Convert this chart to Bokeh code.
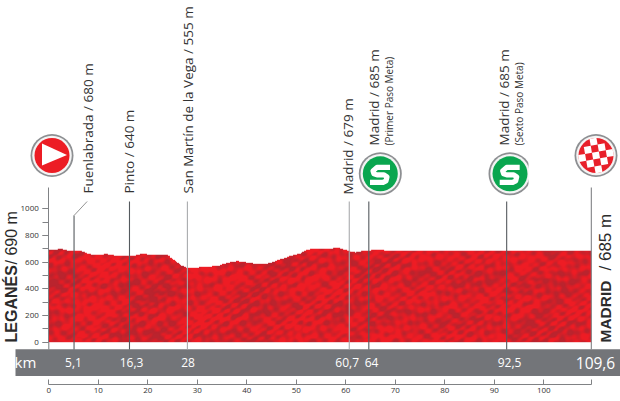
import numpy as np
from bokeh.plotting import figure
from bokeh.models import LinearAxis, FixedTicker, CustomJSTickFormatter
from bokeh.core.properties import value
from bokeh.embed import file_html
from bokeh.resources import INLINE

km = [0, 1.15, 2.5, 3.85, 5.1, 6.2, 7.55, 9.2, 11.6, 13.3, 14.95, 16.3, 17.65, 19, 20.35, 22.4, 24.05, 25.05, 26.7, 27.75, 28.6, 32, 34.35, 36, 38, 40, 42.8, 44.8, 46.8, 48.8, 50.85, 52.2, 53.5, 56.2, 58.6, 60.7, 62, 63.6, 64.6, 66.7, 68.4, 69.7, 80, 92.5, 100, 109.6]
elev = [689, 692, 697, 684, 680, 684, 667, 649, 659, 647, 644, 640, 649, 664, 649, 649, 649, 619, 574, 557, 555, 562, 574, 592, 607, 595, 580, 592, 619, 644, 664, 692, 699, 699, 707, 679, 669, 684, 685, 694, 682, 685, 685, 685, 685, 685]
y_ticks = [0, 200, 400, 600, 800, 1000]
x_ticks = [0, 10, 20, 30, 40, 50, 60, 70, 80, 90, 100]
way_km = [5.1, 16.3, 28, 60.7, 64.65, 92.5]
way_lab = ["5,1", "16,3", "28", "60,7", "64", "92,5"]
way_col = ["#555a5e", "#555a5e", "#a9abad", "#a9abad", "#555a5e", "#555a5e"]
place_txt = ["Fuenlabrada / 680 m", "Pinto / 640 m", "San Martín de la Vega / 555 m", "Madrid / 679 m", "Madrid / 685 m", "Madrid / 685 m"]
place_px = [87, 128, 187, 347, 373, 503]
place_bot = [193, 193, 193, 194, 145, 145]
sub_txt = ["(Primer Paso Meta)", "(Sexto Paso Meta)"]
sub_px = [388, 518]
total_km = 109.6
start_name, start_alt = "LEGANÉS", "/ 690 m"
end_name, end_alt = "MADRID", "/ 685 m"

W, H = 620, 401
XS, X0 = 4.95, 48.3      # px per km, px of km 0
YS, Y0 = 0.1335, 341.7   # px per m, px of 0 m
fx = lambda px: (np.asarray(px, float) - X0) / XS
fy = lambda py: (Y0 - np.asarray(py, float)) / YS

p = figure(width=W, height=H, output_backend="svg", toolbar_location=None,
           x_range=(float(fx(0)), float(fx(W))), y_range=(float(fy(H)), float(fy(0))),
           min_border=0, outline_line_color=None, background_fill_color="white")
p.grid.visible = False
p.xaxis.visible = False
p.yaxis.visible = False

# red profile, with a mottled non-data texture built from interfering waves
nx, ny = 1100, 280
gx = np.linspace(0, total_km, nx)
gy = np.linspace(0, 760, ny)
XX, YY = np.meshgrid(gx, gy)
prof = np.interp(gx, km, elev)
a = XX * 4.95
b = YY * 0.1335
tex = np.zeros_like(a)
for fa, fb, ph, wob in [(0.23, 0.58, 0.3, 2.6), (0.37, -0.49, 1.7, 3.1), (0.61, 0.33, 4.1, 2.2),
                        (0.14, 0.41, 2.2, 3.4), (0.53, -0.77, 5.3, 1.8), (0.09, -0.21, 0.9, 3.6)]:
    tex += np.sin(fa * a + fb * b + ph + wob * np.sin(0.071 * a - 0.113 * b + ph * 2))
tex = tex + 1.3 * np.sin(0.037 * a + 0.061 * b + 1.1) * np.sin(0.023 * a - 0.083 * b + 0.4)
tex = np.clip((tex + 2.6) / 4.2, 0, 1)
rgba = np.zeros((ny, nx, 4), dtype=np.uint8)
rgba[..., 0] = (186 + 52 * tex).astype(np.uint8)
rgba[..., 1] = (36 - 8 * tex).astype(np.uint8)
rgba[..., 2] = (46 - 10 * tex).astype(np.uint8)
rgba[..., 3] = np.where(YY <= prof[None, :], 255, 0)
img = np.empty((ny, nx), dtype=np.uint32)
img.view(np.uint8).reshape((ny, nx, 4))[:] = rgba
p.image_rgba(image=[img], x=0, y=0, dw=total_km, dh=760)

# km band
p.quad(left=[float(fx(15))], right=[float(fx(620))], bottom=[float(fy(375.5))], top=[float(fy(348.7))],
       fill_color="#737579", line_color=None)

# waypoint lines
for k, c in zip(way_km, way_col):
    top = float(fy(215)) if k == way_km[0] else float(fy(201))
    p.line([k, k], [float(fy(349)), top], line_color=c, line_width=1.1)
p.line([way_km[0], float(fx(86.6))], [float(fy(215)), float(fy(201))], line_color="#777", line_width=0.8)
p.line([total_km, total_km], [float(fy(349)), float(fy(187))], line_color="#808285", line_width=1.1)
p.line([0, 0], [float(fy(349)), 0], line_color="#808285", line_width=1.1)

# axes
ya = LinearAxis(fixed_location=0, bounds=(0, float(fy(187))))
ya.ticker = FixedTicker(ticks=y_ticks, minor_ticks=list(range(0, 1100, 100)))
xa = LinearAxis(fixed_location=float(fy(384.3)), bounds=(0, total_km))
xa.ticker = FixedTicker(ticks=x_ticks + [total_km])
xa.formatter = CustomJSTickFormatter(code="return tick > 105 ? '' : String(tick)")
for ax in (ya, xa):
    ax.axis_line_color = "#808285"
    ax.major_tick_line_color = "#808285"
    ax.minor_tick_line_color = "#808285"
    ax.major_label_text_font = "Open Sans"
    ax.major_label_text_font_size = "8px"
    ax.major_label_text_color = "#333333"
ya.major_tick_in, ya.major_tick_out = 0, 6
ya.minor_tick_in, ya.minor_tick_out = 0, 6
ya.major_label_standoff = 4
xa.major_tick_in, xa.major_tick_out = 5, 0
xa.minor_tick_line_color = None
xa.major_label_standoff = 3
p.add_layout(ya, "left")
p.add_layout(xa, "below")

def label(px, py, s, size, color="#333333", angle=np.pi / 2, align="left", style="normal", font="Open Sans"):
    p.text([float(fx(px))], [float(fy(py))], text=[s], angle=angle, text_font=value(font),
           text_font_size=f"{size}px", text_color=color, text_align=align, text_baseline="middle",
           text_font_style=style)

for x, bot, s in zip(place_px, place_bot, place_txt):
    label(x, bot, s, 13.5)
for x, s in zip(sub_px, sub_txt):
    label(x, 145, s, 10)

SANS = "Liberation Sans"
label(11, 342, start_name, 16, color="#2b2b2b", style="bold", font=SANS)
label(11, 264, start_alt, 16, color="#2b2b2b", font=SANS)
label(605, 342, end_name, 15.5, color="#2b2b2b", style="bold", font=SANS)
label(605, 270, end_alt, 17, color="#2b2b2b", font=SANS)

label(25, 361, "km", 15, color="white", angle=0, align="center")
for px, s in zip([73, 131, 187.5, 346.7, 371, 509], way_lab):
    label(px, 362, s, 12, color="white", angle=0, align="center")
label(595, 362, "109,6", 15.5, color="white", angle=0, align="center")

# icons
def badge(px, py, fill):
    x, y = [float(fx(px))], [float(fy(py))]
    p.scatter(x, y, size=43, fill_color="#8d8f92", line_color=None)
    p.scatter(x, y, size=39.5, fill_color="#f4f4f4", line_color=None)
    p.scatter(x, y, size=35, fill_color=fill, line_color=None)

badge(51.5, 155, "#ec1c24")
p.patch(fx([41.5, 41.5, 66.5]), fy([143, 165, 154.5]), fill_color="white", line_color=None)

S_dx = [9.7, -3.3, -7.3, -6.3, -3.3, 3.7, 6.7, 5.7, 2.7, -10.3]
S_dy = [-5.8, -5.8, -2.3, 0.7, 1.7, 1.7, 3.7, 7.7, 9.2, 9.2]
for cx0, cy0 in [(379.8, 172.7), (509.5, 172.7)]:
    badge(cx0, cy0 + 0.6, "#0aa64f")
    p.line(fx(cx0 + np.array(S_dx)), fy(cy0 + np.array(S_dy)), line_color="white", line_width=5.2,
           line_join="round")
p.quad(left=[float(fx(528))], right=[float(fx(534))], bottom=[float(fy(196))], top=[float(fy(150))],
       fill_color="white", line_color=None)

badge(595.5, 155, "#e8202a")
s = 7.0
cx, cy = 595.5, 155
th = np.radians(-10)
c_, s_ = np.cos(th), np.sin(th)
for i in range(-2, 3):
    for j in range(-2, 3):
        if (i + j) % 2 == 0 and i * i + j * j <= 5:
            sq_x = np.array([i - .5, i + .5, i + .5, i - .5]) * s
            sq_y = np.array([j - .5, j - .5, j + .5, j + .5]) * s
            p.patch(fx(cx + sq_x * c_ - sq_y * s_), fy(cy + sq_x * s_ + sq_y * c_), fill_color="white", line_color=None)

open("out.html", "w").write(file_html(p, INLINE))
